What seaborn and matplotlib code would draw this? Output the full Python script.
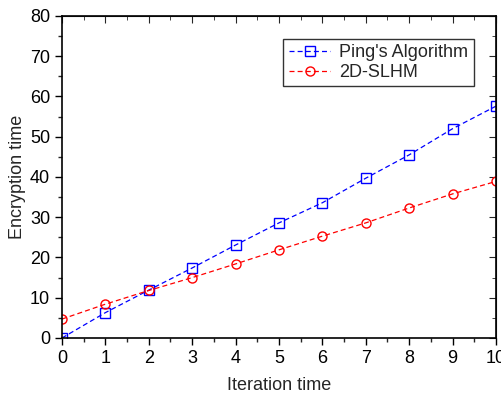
import numpy as np
import pandas as pd
import matplotlib
matplotlib.use("Agg")
import matplotlib.pyplot as plt
import seaborn as sns
from matplotlib.ticker import MultipleLocator
from matplotlib.lines import Line2D

# valeurs
iterations = [0, 1, 2, 3, 4, 5, 6, 7, 8, 9, 10]
ping_vals = [0.0, 6.3, 11.9, 17.4, 23.1, 28.6, 33.6, 39.7, 45.5, 52.0, 57.6]
slhm_vals = [4.7, 8.4, 11.8, 15.0, 18.4, 21.9, 25.3, 28.6, 32.3, 35.8, 38.9]
series_names = ["Ping's Algorithm", "2D-SLHM"]
couleurs = ["#0000ff", "#ff0000"]
marqueurs = ["s", "o"]

sns.set_style("ticks")
plt.rcParams['font.family'] = ['Liberation Sans', 'DejaVu Sans']

df = pd.DataFrame({
    "Iteration time": iterations * 2,
    "Encryption time": ping_vals + slhm_vals,
    "serie": [series_names[0]] * len(iterations) + [series_names[1]] * len(iterations),
})

fig = plt.figure(figsize=(5.02, 3.96), dpi=100)
ax = fig.add_axes([0.1235, 0.1465, 0.8645, 0.8131])

sns.lineplot(data=df, x="Iteration time", y="Encryption time", hue="serie",
             style="serie", palette=couleurs,
             markers=marqueurs, dashes=[(4, 2.5), (4, 2.5)],
             markersize=6.5, markerfacecolor="none", markeredgewidth=1,
             linewidth=0.9, ax=ax, legend=False)
for l, c in zip(ax.lines, couleurs):
    l.set_markeredgecolor(c)
    l.set_markerfacecolor("none")

ax.set_xlim(0, 10)
ax.set_ylim(0, 80)
ax.xaxis.set_major_locator(MultipleLocator(1))
ax.xaxis.set_minor_locator(MultipleLocator(0.5))
ax.yaxis.set_major_locator(MultipleLocator(10))
ax.yaxis.set_minor_locator(MultipleLocator(5))
ax.tick_params(which="major", direction="out", length=5, width=1, labelsize=13, colors="black")
ax.tick_params(which="minor", direction="out", length=3, width=1)
for s in ax.spines.values():
    s.set_linewidth(1.2)
    s.set_color("black")

# ticks en miroir vers l'interieur
top = ax.secondary_xaxis("top")
top.xaxis.set_major_locator(MultipleLocator(1))
top.xaxis.set_minor_locator(MultipleLocator(0.5))
top.tick_params(which="major", direction="in", length=5, labeltop=False)
top.tick_params(which="minor", direction="in", length=3)
right = ax.secondary_yaxis("right")
right.yaxis.set_major_locator(MultipleLocator(10))
right.yaxis.set_minor_locator(MultipleLocator(5))
right.tick_params(which="major", direction="in", length=5, labelright=False)
right.tick_params(which="minor", direction="in", length=3)

ax.set_xlabel("Iteration time", fontsize=13, labelpad=7)
ax.set_ylabel("Encryption time", fontsize=13, labelpad=3)

handles = [Line2D([], [], color=c, linestyle=(0, (4, 2.5)), linewidth=0.9,
                  marker=m, markersize=6.5, markerfacecolor="none", markeredgecolor=c)
           for c, m in zip(couleurs, marqueurs)]
leg = ax.legend(handles, series_names, loc="upper right", bbox_to_anchor=(0.949, 0.929),
                borderaxespad=0, fontsize=13, frameon=True, fancybox=False, edgecolor="black",
                handlelength=2.3, handletextpad=0.5, borderpad=0.3, labelspacing=0.15)
leg.get_frame().set_linewidth(1)

plt.savefig("out.png", dpi=100)
